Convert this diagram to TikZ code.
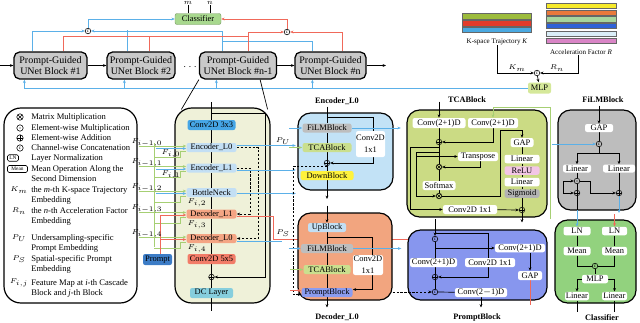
\documentclass[tikz,border=0pt]{standalone}
\usepackage{fontspec}
\setmainfont{Liberation Serif}
\usetikzlibrary{calc,arrows.meta}
\pgfdeclarelayer{under}
\pgfdeclarelayer{boxes}
\pgfdeclarelayer{lines}
\pgfsetlayers{under,boxes,lines,main}
\definecolor{blkgray}{HTML}{C9C9C9}
\definecolor{clsg}{HTML}{A8D88E}
\definecolor{lblue}{HTML}{5BB0E8}
\definecolor{lred}{HTML}{F0695A}
\definecolor{lgreen}{HTML}{A6CF73}
\definecolor{detfill}{HTML}{EFF1D9}
\definecolor{cthree}{HTML}{46A6E6}
\definecolor{encc}{HTML}{C3DFF4}
\definecolor{decc}{HTML}{F4A584}
\definecolor{cfive}{HTML}{F27C68}
\definecolor{dcc}{HTML}{86CEDD}
\definecolor{prmc}{HTML}{3C7CC6}
\definecolor{encboxc}{HTML}{C2E2F6}
\definecolor{filg}{HTML}{BEBEBE}
\definecolor{tcag}{HTML}{CADF8E}
\definecolor{downy}{HTML}{FFF23C}
\definecolor{decboxc}{HTML}{F2A57F}
\definecolor{prmb}{HTML}{8B9CF0}
\definecolor{tcaboxc}{HTML}{CBDB84}
\definecolor{reluc}{HTML}{F3C6E6}
\definecolor{sigg}{HTML}{B3B3B3}
\definecolor{prmboxc}{HTML}{8796EE}
\definecolor{filboxc}{HTML}{BDBDBD}
\definecolor{clsboxc}{HTML}{92D27E}
\definecolor{mlpc}{HTML}{D5E89A}
\definecolor{kolive}{HTML}{9CBB3C}
\definecolor{kred}{HTML}{E23B2B}
\definecolor{kblue}{HTML}{4AA9E1}
\definecolor{ryellow}{HTML}{F7EA2A}
\definecolor{rorange}{HTML}{E9793B}
\definecolor{rgreen}{HTML}{A7D69D}
\definecolor{rblue}{HTML}{2F62D8}
\definecolor{rlight}{HTML}{DAEEF8}
\definecolor{rpink}{HTML}{D985C6}
\newcommand\fblk{\fontsize{7.1}{8.3}\selectfont}
\newcommand\fsm{\fontsize{6}{6.6}\selectfont}
\newcommand\ftit{\bfseries\fontsize{5.9}{7}\selectfont}
\newcommand\fleg{\fontsize{6.1}{7.1}\selectfont}
\newcommand\flab{\fontsize{5}{6}\selectfont}
\newcommand\fflab{\fontsize{4.5}{5}\selectfont}
\newcommand\ftiny{\fontsize{3.6}{3.6}\selectfont}
\begin{document}
\begin{tikzpicture}[x=0.025cm, y=-0.025cm,
 >={Stealth[length=2.4pt,width=2pt]},
 every node/.style={font=\fsm, inner sep=0pt},
 sz/.style 2 args={minimum width=#1*0.025cm, minimum height=#2*0.025cm},
 blk/.style={draw, line width=0.9pt, rounded corners=4pt, fill=blkgray, align=center, font=\fblk},
 sb/.style={rounded corners=1.5pt, align=center},
 wb/.style={sb, fill=white},
 bigbox/.style={draw, line width=0.85pt, rounded corners=9pt},
 op/.style={circle, draw, line width=0.4pt, minimum size=0.14cm, inner sep=0pt},
 opplus/.style={op, path picture={\draw[line width=0.3pt] (path picture bounding box.north) -- (path picture bounding box.south) (path picture bounding box.west) -- (path picture bounding box.east);}},
 optimes/.style={op, path picture={\draw[line width=0.3pt] (path picture bounding box.north west) -- (path picture bounding box.south east) (path picture bounding box.north east) -- (path picture bounding box.south west);}},
 opdot/.style={op, path picture={\fill (path picture bounding box.center) circle (0.45pt);}},
 opcat/.style={op, font=\ftiny},
 lop/.style={minimum size=0.16cm},
 ln/.style={line width=0.5pt},
 thk/.style={line width=0.9pt},
 bl/.style={draw=lblue, line width=0.7pt},
 rd/.style={draw=lred, line width=0.7pt},
 gr/.style={draw=lgreen, line width=0.7pt},
 dsh/.style={line width=0.5pt, dash pattern=on 1.6pt off 1.2pt},
 lt/.style={anchor=west, font=\fleg, align=left},
 tl/.style={font=\flab},
 fl/.style={font=\fflab}
]
\useasboundingbox (0,0) rectangle (640,323);

% ---------------- big boxes
\begin{pgfonlayer}{boxes}
\node[bigbox, fill=white, sz={133}{195}, rounded corners=12pt] (leg) at (70.5,205.5) {};
\node[bigbox, fill=detfill, sz={95}{195}, rounded corners=12pt] (det) at (222.5,205.5) {};
\node[bigbox, fill=encboxc, sz={95}{77}] (encb) at (345.5,151.5) {};
\node[bigbox, fill=decboxc, sz={94}{87}] (decb) at (345,256.5) {};
\node[bigbox, fill=tcaboxc, sz={140}{107}] (tcab) at (477,163.5) {};
\node[bigbox, fill=prmboxc, sz={139}{70}] (prmbx) at (477.5,265) {};
\node[bigbox, fill=filboxc, sz={78}{100}] (filb) at (597,160) {};
\node[bigbox, fill=clsboxc, sz={81}{83}] (clsb) at (595.5,261.5) {};
\end{pgfonlayer}

% ---------------- top row
\node[blk, sz={73}{27}] (b1) at (50.5,65.5) {Prompt-Guided\\UNet Block \#1};
\node[blk, sz={68}{27}] (b2) at (141,65.5) {Prompt-Guided\\UNet Block \#2};
\node[font=\fblk] (dots) at (190,67) {$\cdots$};
\node[blk, sz={77}{27}] (bn1) at (238,65.5) {Prompt-Guided\\UNet Block \#n-1};
\node[blk, sz={71}{27}] (bn) at (330.5,65.5) {Prompt-Guided\\UNet Block \#n};
\coordinate (in0) at (0,65.5);
\coordinate (out0) at (386,65.5);
\node[sb, fill=clsg, draw=clsg!70!black, line width=0.3pt, sz={46}{11}] (cls) at (198,19) {Classifier};
\node[tl] (ml) at (188,3) {$m$};
\node[tl] (nl) at (210,3) {$n$};
\node[opcat] (catB) at (88,31) {c};
\node[opcat] (catR) at (287,32) {c};

% top right
\foreach \c/\a/\b in {kolive/13/19.5, kred/20.5/26, kblue/27/32.5}
  \draw[draw=black!60, line width=0.3pt, fill=\c] (462,\a) rectangle (531,\b);
\foreach \c/\a/\b in {ryellow/3/8.5, rorange/10/15.5, rgreen/16.5/22, rblue/23/28.5, rlight/31/36.5, rpink/38.5/43.5}
  \draw[draw=black!60, line width=0.3pt, fill=\c] (546,\a) rectangle (616,\b);
\node[tl] (klab) at (497,42) {K-space Trajectory \textit{K}};
\node[tl] (rlab) at (581,52) {Acceleration Factor \textit{R}};
\node[opcat] (kcat) at (537,73) {c};
\node[tl] (km) at (517,68) {$K_m$};
\node[tl] (rn) at (557,68) {$R_n$};
\node[sb, fill=mlpc, sz={23}{11}] (mlp) at (539.5,88) {MLP};

% ---------------- legend
\node[optimes, lop] (s1) at (20,117) {};
\node[lt] (l1) at (31,117) {Matrix Multiplication};
\node[opdot, lop] (s2) at (20,128) {};
\node[lt] (l2) at (31,128) {Element-wise Multiplication};
\node[opplus, lop] (s3) at (20,138) {};
\node[lt] (l3) at (31,138) {Element-wise Addition};
\node[opcat, lop] (s4) at (20,148) {c};
\node[lt] (l4) at (31,148) {Channel-wise Concatenation};
\node[draw, rounded corners=1pt, line width=0.4pt, sz={11}{6.5}, font=\fontsize{3.8}{4}\selectfont] (s5) at (13,158) {LN};
\node[lt] (l5) at (31,158) {Layer Normalization};
\node[draw, rounded corners=1pt, line width=0.4pt, sz={20}{7}, font=\fontsize{3.8}{4}\selectfont] (s6) at (17.5,169) {Mean};
\node[lt] (l6) at (31,174) {Mean Operation Along the\\Second Dimension};
\node[tl] (s7) at (19,190) {$K_m$};
\node[lt] (l7) at (31,195) {the \textit{m}-th K-space Trajectory\\Embedding};
\node[tl] (s8) at (19,211) {$R_n$};
\node[lt] (l8) at (31,216) {the \textit{n}-th Acceleration Factor\\Embedding};
\node[tl] (s9) at (19,238) {$P_U$};
\node[lt] (l9) at (31,243) {Undersampling-specific\\Prompt Embedding};
\node[tl] (s10) at (19,259) {$P_S$};
\node[lt] (l10) at (31,264) {Spatial-specific Prompt\\Embedding};
\node[tl] (s11) at (19,283) {$F_{i,j}$};
\node[lt] (l11) at (31,288) {Feature Map at \textit{i}-th Cascade\\Block and \textit{j}-th Block};

% ---------------- UNet detail
\node[sb, fill=cthree, sz={48}{10}] (cv3) at (211.5,125) {Conv2D 3x3};
\node[sb, fill=encc, sz={50}{9}] (e0) at (211.5,147.5) {Encoder\_L0};
\node[sb, fill=encc, sz={50}{9}] (e1) at (211.5,168) {Encoder\_L1};
\node[sb, fill=encc, sz={50}{9}] (bt) at (211.5,192.5) {BottleNeck};
\node[sb, fill=decc, sz={50}{9}] (d1) at (211.5,214) {Decoder\_L1};
\node[sb, fill=decc, sz={50}{9}] (d0) at (211.5,238.5) {Decoder\_L0};
\node[sb, fill=cfive, sz={48}{10}] (cv5) at (211.5,259) {Conv2D 5x5};
\node[opplus] (pd) at (211.5,277) {};
\node[sb, fill=dcc, sz={43}{10}] (dcl) at (211.5,293) {DC Layer};
\coordinate (dtop) at (211.5,102);
\coordinate (dbot) at (211.5,311);
\node[sb, fill=prmc, sz={29}{11}] (prompt) at (157.5,259.5) {Prompt};
\node[fl] (fa0) at (147,142.5) {$F_{i-1,0}$};
\node[fl] (fa1) at (147,163) {$F_{i-1,1}$};
\node[fl] (fa2) at (147,187.5) {$F_{i-1,2}$};
\node[fl] (fa3) at (147,209) {$F_{i-1,3}$};
\node[fl] (fa4) at (147,233.5) {$F_{i-1,4}$};
\node[fl] (fb0) at (171,154) {$F_{i,0}$};
\node[fl] (fb1) at (171,175) {$F_{i,1}$};
\node[fl] (fb2) at (197,203) {$F_{i,2}$};
\node[fl] (fb3) at (197,225) {$F_{i,3}$};
\node[fl] (fb4) at (197,248.5) {$F_{i,4}$};
\node[tl] (pu) at (283,141) {$P_U$};
\node[tl] (ps) at (283,233) {$P_S$};

% ---------------- Encoder_L0 detail
\node[font=\ftit] (et) at (337,101) {Encoder\_L0};
\node[sb, fill=filg, sz={49}{9}] (f1) at (327,128) {FiLMBlock};
\node[sb, fill=tcag, sz={49}{9}] (t1) at (327,147.5) {TCABlock};
\node[opplus] (pe) at (327,163) {};
\node[sb, fill=downy, sz={53}{9}] (dn1) at (327,175.5) {DownBlock};
\node[wb, sz={29}{26}] (c1a) at (370.5,144) {Conv2D\\[2pt]1x1};

% ---------------- Decoder_L0 detail
\node[font=\ftit] (dt) at (337,317) {Decoder\_L0};
\node[sb, fill=encc, sz={38}{9}] (up) at (327,227.5) {UpBlock};
\node[sb, fill=filg, sz={52}{9}] (f2) at (327,248.5) {FiLMBlock};
\node[sb, fill=tcag, sz={47}{9}] (t2) at (327,269.5) {TCABlock};
\node[sb, fill=prmb, sz={51}{9}] (pb) at (327,292.5) {PromptBlock};
\node[wb, sz={30}{20}] (c1b) at (368,265) {Conv2D\\[2pt]1x1};

% ---------------- TCABlock detail
\node[font=\ftit] (tt) at (467,100) {TCABlock};
\node[wb, sz={53}{10}] (tv1) at (439,123) {Conv(2+1)D};
\node[wb, sz={50}{10}] (tv2) at (493,123) {Conv(2+1)D};
\node[opplus] (tp1) at (439,142) {};
\node[wb, sz={40}{9}] (ttr) at (478,156.5) {Transpose};
\node[optimes] (tm1) at (439,167) {};
\node[wb, sz={33}{9}] (tsm) at (439,185.5) {Softmax};
\node[optimes] (tm2) at (439,196) {};
\node[wb, sz={54}{9}] (tc11) at (470,209.5) {Conv2D 1x1};
\node[opplus] (tp2) at (522,210) {};
\node[wb, sz={23}{9}] (tgap) at (522,142.5) {GAP};
\node[wb, sz={35}{8.5}] (tl1) at (522,159) {Linear};
\node[sb, fill=reluc, sz={35}{8.5}] (trelu) at (522,170.5) {ReLU};
\node[wb, sz={35}{8.5}] (tl2) at (522,182) {Linear};
\node[sb, fill=sigg, sz={35}{8.5}] (tsig) at (522,193.5) {Sigmoid};
\coordinate (gcs) at (550,219);

% ---------------- PromptBlock detail
\node[font=\ftit] (pt) at (477,318) {PromptBlock};
\node[opcat] (pc1) at (435,239) {c};
\node[opplus] (pp) at (435,277) {};
\node[opcat] (pc2) at (435,292) {c};
\node[wb, sz={47}{9}] (pcv1) at (433.5,262.5) {Conv(2+1)D};
\node[wb, sz={50}{9}] (pc11) at (490,262.5) {Conv2D 1x1};
\node[wb, sz={50}{8.5}] (pcv2) at (520,248) {Conv(2+1)D};
\node[wb, sz={24}{9}] (pgap) at (530,275.5) {GAP};
\node[wb, sz={52}{9}] (pcv3) at (481,292.5) {Conv(2$-$1)D};
\coordinate (pin) at (435,219);

% ---------------- FiLMBlock detail
\node[font=\ftit] (ft) at (603,100) {FiLMBlock};
\node[wb, sz={28}{8}] (fgap) at (599,128) {GAP};
\node[opcat] (fcat) at (599,144) {c};
\node[wb, sz={28}{8}] (fl1) at (577,168.5) {Linear};
\node[wb, sz={32}{8}] (fl2) at (619,168.5) {Linear};
\node[opdot] (fdot) at (577,181) {};
\node[opplus] (fp1) at (577,193) {};
\node[opplus] (fp2) at (619,193) {};

% ---------------- Classifier detail
\node[font=\ftit] (ct) at (602,318) {Classifier};
\node[wb, sz={27}{8.5}] (cln1) at (577,231) {LN};
\node[wb, sz={25}{8.5}] (cln2) at (614.5,231) {LN};
\node[wb, sz={27}{8.5}] (cm1) at (577,251) {Mean};
\node[wb, sz={25}{8.5}] (cm2) at (614.5,251) {Mean};
\node[opcat] (ccat) at (595,266) {c};
\node[wb, sz={26}{8.5}] (cmlp) at (595,279) {MLP};
\node[wb, sz={24}{8.5}] (cli1) at (577,296) {Linear};
\node[wb, sz={25}{8.5}] (cli2) at (614.5,296) {Linear};

% ================= connectors
\begin{pgfonlayer}{lines}
% top chain
\draw[thk,->] (in0) -- (b1);
\draw[thk,->] (b1) -- (b2);
\draw[thk,->] (bn1) -- (bn);
\draw[thk,->] (bn) -- (out0);
\draw[ln] (cls.north -| ml) -- (ml.south);
\draw[ln] (cls.north -| nl) -- (nl.south);
% blue prompt collection
\draw[bl,->] ($(b1.north west)+(19,0)$) |- (catB);
\draw[bl] ($(b2.north west)+(21,0)$) -- ++(0,-21);
\draw[bl,->] ($(bn1.north west)+(23.5,0)$) |- (catB);
\draw[bl] ($(bn.north west)+(18,0)$) |- ($(bn1.north west)+(23.5,-10)$);
\draw[bl,->] (catB) |- (cls);
% red prompt collection
\draw[rd] ($(b1.north west)+(50,0)$) |- ($(bn1.north west)+(49.5,-15)$);
\draw[rd] ($(b2.north west)+(43,0)$) -- ++(0,-15);
\draw[rd,->] ($(bn1.north west)+(49.5,0)$) |- (catR);
\draw[rd,->] ($(bn.north west)+(48,0)$) |- (catR);
\draw[rd,->] (catR) |- (cls);
% MLP feeding blocks
\draw[ln,->] (klab) |- (kcat);
\draw[ln,->] ($(rlab.south)+(-3,0)$) |- (kcat);
\draw[ln,->] (kcat) -- (mlp);
\draw[bl,->] (mlp) -| ($(b1.south west)+(11,0)$);
\draw[bl,->] ($(b2.south west)+(18,9)$) -- ++(0,-9);
\draw[bl,->] ($(bn1.south west)+(17.5,9)$) -- ++(0,-9);
\draw[bl,->] ($(bn.south west)+(18,9)$) -- ++(0,-9);
% zoom lines
\draw[ln] (bn1.south west) -- ($(det.north west)+(7,2)$);
\draw[ln] ($(bn1.south east)+(-17,0)$) -- ($(det.north east)+(-3,2)$);

% UNet detail
\draw[ln] (dtop) -- (cv3) -- (e0) -- (e1) -- (bt) -- (d1) -- (d0) -- (cv5) -- (pd) -- (dcl) -- (dbot);
\draw[ln,->] ($(dtop)+(0,11)$) -- ++(53.5,0) |- (pd);
\draw[dsh,->] (e0) -- ++(46.5,0) |- (d0);
\draw[dsh,->] (e1) -- ++(38.5,0) |- (d1);
% left side inputs
\draw[gr] ($(e0.west)+(-31.5,-4.5)$) -- ($(d0.west)+(-31.5,8)$);
\foreach \n in {e0,e1,bt,d1,d0}{
  \draw[gr,->] ($(\n.west)+(-47,-1.5)$) -- ($(\n.west)+(0,-1.5)$);
  \draw[gr] ($(\n.west)+(0,3.5)$) -- ++(-6,0) -- ++(0,6) -- ++(-26,0);
}
\foreach \n in {e0,e1,bt}
  \draw[bl,->] ($(\n.west)+(-30,1)$) -- ($(\n.west)+(0,1)$);
\draw[rd,->] ($(prompt.north)+(3,0)$) |- ($(d1.west)+(0,1)$);
\draw[rd,->] ($(prompt.north)+(3,0)$) |- ($(d0.west)+(0,1)$);
% right side outputs
\draw[bl,->] ($(e0.east)+(0,-2)$) -- ++(59,0);
\draw[bl,->] ($(e1.east)+(0,2)$) -- ++(59,0);
\draw[bl,->] ($(bt.east)+(0,1)$) -- ++(59,0);
\draw[rd] ($(d1.east)+(0,2)$) -- ++(36.5,0) -- ++(0,23) coordinate (rsplit);
\draw[bl] ($(d0.east)+(0,2.5)$) -- ++(45,0);

% Encoder detail
\draw[ln] ($(f1.north)+(0,-16.5)$) -- (f1);
\draw[ln] (f1) -- (t1) -- (pe) -- (dn1);
\draw[ln,->] (dn1) -- ++(0,23.5);
\draw[ln,->] ($(f1.north)+(0,-5.5)$) -- ++(46,0) |- (pe);
\draw[dsh,->] ($(pe)+(0,3.5)$) -- ++(-34,0) |- ($(pb.west)+(0,2)$);
\draw[bl,->] ($(f1.west)+(-13,0)$) -- (f1);
\draw[bl,->] (f1.east) -- ++(49,0);
\draw[gr,->] ($(t1.west)+(-13,0)$) -- (t1);

% Decoder detail
\draw[ln,->] ($(up.north)+(0,-17)$) -- (up);
\draw[ln] (up) -- (f2) -- (t2) -- (pb);
\draw[ln,->] (pb) -- ++(0,15);
\draw[ln,->] ($(up.south)+(0,5)$) -- ++(45,0) |- ($(pb.east)+(0,-3)$);
\draw[bl,->] ($(f2.west)+(-12,0)$) -- (f2);
\draw[bl,->] (f2.east) -- ++(48,0);
\draw[gr,->] ($(t2.west)+(-13,0)$) -- (t2);
\draw[rd,->] ($(pb.west)+(-11,-2)$) -- ($(pb.west)+(0,-2)$);
\draw[dsh,->] (decb.east |- pc2) -- (pc2);

% TCA detail
\draw[ln,->] ($(tv1.north)+(0,-16)$) -- (tv1);
\draw[ln] (tv1) -- (tp1) -- (tm1) -- (tsm) -- (tm2);
\draw[ln,->] (tv2) |- (tp1);
\draw[ln,->] ($(tp1)+(0,5)$) -- ++(-29,0) |- (tc11);
\draw[ln,->] ($(tp1)+(0,10)$) -- ++(-23,0) |- (tm2);
\draw[ln,->] ($(tp1)+(-23,14.5)$) -- (ttr);
\draw[ln,->] ($(ttr.south)+(2,0)$) |- (tm1);
\draw[ln,->] (tm2) -- ++(61,0) |- ($(tgap.north)+(0,-7)$) -- (tgap);
\draw[ln] (tgap) -- (tl1) -- (trelu) -- (tl2) -- (tsig) -- (tp2);
\draw[ln,->] (tc11) -- (tp2);
\draw[ln,->] (tp2) -- ++(0,12.5);
\draw[gr,->] (gcs) -- ++(0,-111.5) -| (tv2);

% PromptBlock detail
\draw[ln,->] (pin) -- (pc1);
\draw[ln,->] ($(pc1)+(0,-6)$) -- ++(53,0) |- (pp);
\draw[ln,->] ($(pc1)+(0,9)$) -- (pcv2);
\draw[ln] (pc1) -- (pp) -- (pc2);
\draw[ln,->] ($(pcv2.south)+(10,0)$) -- (pgap);
\draw[rd] (pgap) -- ++(0,29.5);
\draw[ln] (pc2) -- (pcv3);
\draw[ln,->] (pcv3) -- ++(0,15);

% FiLM detail
\draw[ln,->] ($(fgap.north)+(0,-18)$) -- (fgap);
\draw[ln] (fgap) -- (fcat);
\draw[bl,->] ($(fcat)+(-47,0)$) -- (fcat);
\draw[ln,->] (fcat) -- ++(0,9) -| (fl1);
\draw[ln,->] ($(fcat)+(0,9)$) -| (fl2);
\draw[ln] (fl1) -- (fdot) -- (fp1);
\draw[ln] (fl2) -- (fp2);
\draw[ln,->] ($(fdot)+(-14,0)$) -- (fdot);
\draw[ln,->] ($(fdot)+(-14,0)$) |- (fp1);
\draw[ln,->] (fdot) -- ++(13,0) |- (fp2);
\draw[ln] (fp1) -- ++(0,17) coordinate (fo1);
\draw[bl,->] (fo1) -- (cln1);
\draw[bl,->] (fp2) -- ++(0,20);
\draw[rd,->] ($(cln2.north)+(0,-12)$) -- (cln2);

% Classifier detail
\draw[ln] (cln1) -- (cm1);
\draw[ln] (cln2) -- (cm2);
\draw[ln] (cm1) |- (ccat);
\draw[ln] (cm2) |- (ccat);
\draw[ln] (ccat) -- (cmlp);
\draw[ln,->] (cmlp) -| (cli1);
\draw[ln,->] (cmlp) -| (cli2);
\draw[ln] (cli1) -- ++(0,16);
\draw[ln] (cli2) -- ++(0,16);
\end{pgfonlayer}

\begin{pgfonlayer}{under}
\draw[rd,->] (rsplit) -- (pc1);
\end{pgfonlayer}
\end{tikzpicture}
\end{document}
